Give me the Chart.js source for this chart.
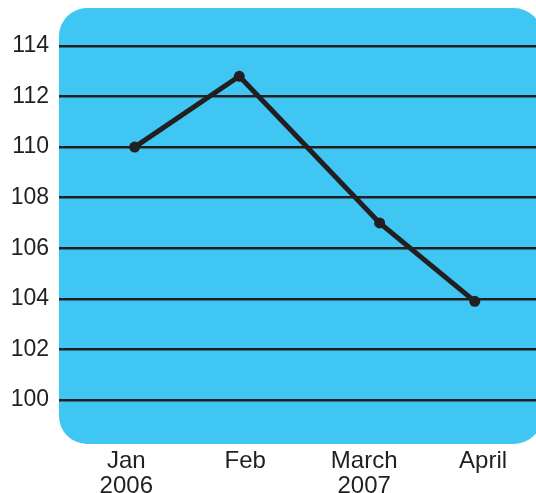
<!DOCTYPE html>
<html>
<head>
<meta charset="utf-8">
<script src="https://cdn.jsdelivr.net/npm/chart.js@4"></script>
<style>
html,body{margin:0;padding:0;background:#fff;}
canvas{display:block;}
</style>
</head>
<body>
<canvas id="c" width="536" height="493"></canvas>
<script>
const categories = [['Jan', '2006'], 'Feb', ['March', '2007'], 'April'];
const categoryPositions = [0, 1, 2, 3];
const pointPositions = [0.07, 0.95, 2.13, 2.93];
const values = [110, 112.8, 107, 103.9];
const yTicks = [100, 102, 104, 106, 108, 110, 112, 114];

const INK = '#231f20';
const BLUE = '#3fc6f3';
const FONT = 'Liberation Sans, Arial, sans-serif';

const bgPlugin = {
  id: 'bg',
  beforeDraw(chart) {
    const { ctx, chartArea: a } = chart;
    ctx.save();
    ctx.fillStyle = BLUE;
    ctx.beginPath();
    ctx.roundRect(a.left, a.top, a.right - a.left + 6, a.bottom - a.top, 28);
    ctx.fill();
    ctx.restore();
  }
};

new Chart(document.getElementById('c'), {
  type: 'line',
  data: {
    datasets: [{
      data: pointPositions.map((x, i) => ({ x, y: values[i] })),
      borderColor: INK,
      borderWidth: 5,
      pointRadius: 5.5,
      pointBackgroundColor: INK,
      pointBorderWidth: 0,
      tension: 0,
      clip: false
    }]
  },
  options: {
    responsive: false,
    animation: false,
    layout: { autoPadding: false, padding: { top: 8, left: 0, right: 0, bottom: 0 } },
    plugins: { legend: { display: false }, tooltip: { enabled: false } },
    scales: {
      x: {
        type: 'linear',
        position: 'bottom',
        min: -0.566,
        max: 3.445,
        afterBuildTicks: s => { s.ticks = categoryPositions.map(v => ({ value: v })); },
        afterFit: s => { s.height = 49; s.paddingLeft = 0; s.paddingRight = 0; },
        grid: { display: false, drawTicks: false },
        border: { display: false },
        ticks: {
          autoSkip: false,
          maxRotation: 0,
          padding: 5,
          color: INK,
          font: { family: FONT, size: 24, lineHeight: 1.04 },
          callback: (v, i) => categories[i]
        }
      },
      y: {
        min: 98.26,
        max: 115.5,
        afterBuildTicks: s => { s.ticks = yTicks.map(v => ({ value: v })); },
        afterFit: s => { s.width = 59; s.paddingTop = 0; s.paddingBottom = 0; },
        grid: { color: INK, lineWidth: 2.5, drawTicks: false },
        border: { display: false },
        ticks: {
          padding: 10,
          color: INK,
          font: { family: FONT, size: 23 },
          callback: v => String(v)
        }
      }
    }
  },
  plugins: [bgPlugin]
});
</script>
</body>
</html>
